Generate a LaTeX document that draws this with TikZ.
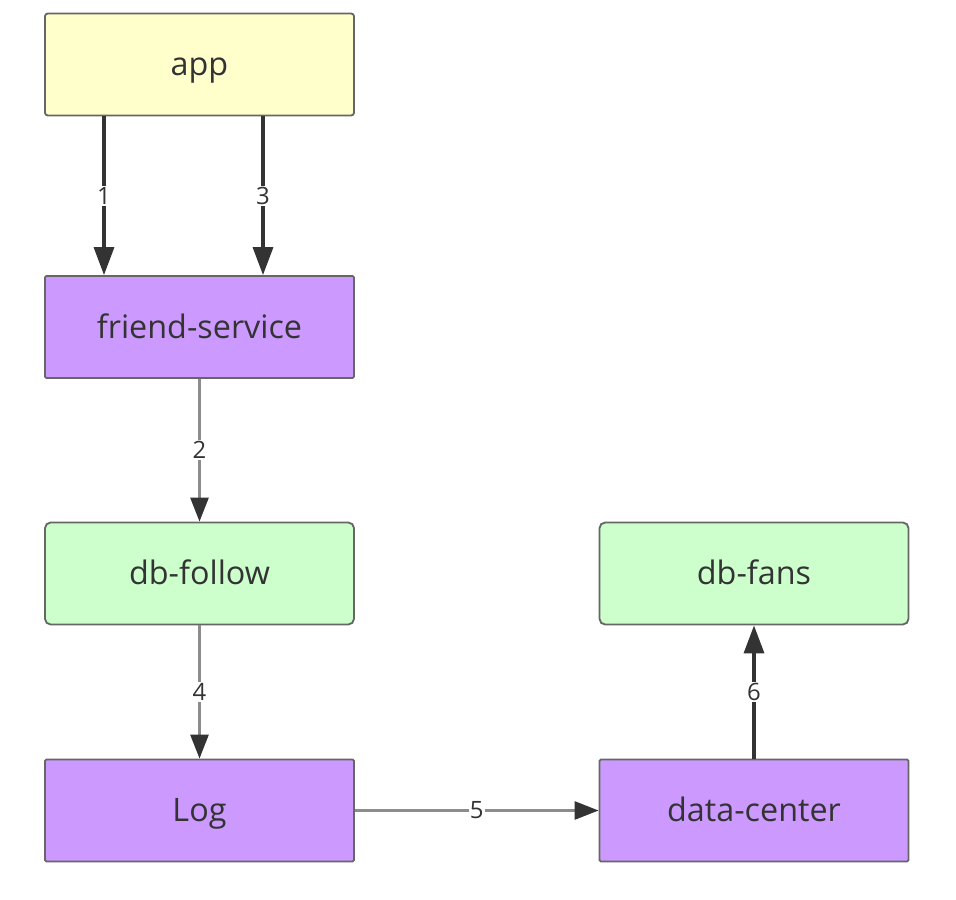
\documentclass[tikz,border=0pt]{standalone}
\usepackage{fontspec}
\setmainfont{Open Sans}
\usetikzlibrary{arrows.meta}
\definecolor{appyellow}{HTML}{FFFFCC}
\definecolor{svcpurple}{HTML}{CC99FF}
\definecolor{dbgreen}{HTML}{CCFFCC}
\definecolor{edgegray}{HTML}{666666}
\definecolor{inkdark}{HTML}{333333}
\tikzstyle{box} = [rectangle, minimum width=7.725cm, minimum height=2.55cm, text centered, text height=18pt, text depth=2pt, draw=edgegray, line width=1.3pt, text=inkdark, font=\fontsize{23}{27}\selectfont]
\tikzstyle{client} = [box, rounded corners=2pt, fill=appyellow]
\tikzstyle{service} = [box, rounded corners=1pt, fill=svcpurple]
\tikzstyle{store} = [box, rounded corners=4pt, fill=dbgreen]
\tikzstyle{arrow} = [line width=2.4pt, draw=inkdark, -{Triangle[length=0.7cm,width=0.5cm]}]
\tikzstyle{lightarrow} = [line width=2pt, draw=black!45, -{Triangle[length=0.6cm,width=0.45cm,color=inkdark]}]
\tikzstyle{num} = [fill=white, inner sep=1pt, text=inkdark, font=\fontsize{17}{20}\selectfont]

\begin{document}
\begin{tikzpicture}[node distance=6cm]
\useasboundingbox (0,0) rectangle (23.9,-22.5);

\node (app) [client] at (4.9875,-1.6125) {app};
\node (friend) [service, below of=app, yshift=-0.5625cm] {friend-service};
\node (follow) [store, below of=friend, yshift=-0.1625cm] {db-follow};
\node (log) [service, below of=follow, yshift=0.075cm] {Log};
\node (fans) [store, right of=follow, xshift=7.8625cm] {db-fans};
\node (center) [service, right of=log, xshift=7.8625cm] {data-center};

\draw [arrow] ([xshift=-2.3875cm]app.south) -- ([xshift=-2.3875cm]friend.north) node [num, midway] {1};
\draw [arrow] ([xshift=1.5875cm]app.south) -- ([xshift=1.5875cm]friend.north) node [num, midway] {3};
\draw [lightarrow] (friend) -- (follow) node [num, midway] {2};
\draw [lightarrow] (follow) -- (log) node [num, midway] {4};
\draw [lightarrow] (log) -- (center) node [num, midway] {5};
\draw [arrow] (center) -- (fans) node [num, midway] {6};
\end{tikzpicture}
\end{document}
